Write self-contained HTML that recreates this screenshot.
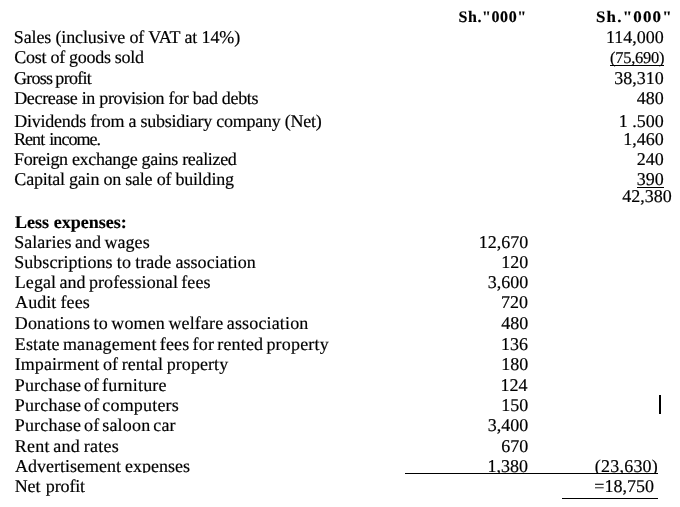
<!DOCTYPE html>
<html><head><meta charset="utf-8"><title>Income statement</title>
<style>
html,body{margin:0;padding:0;background:#fff;}
body{width:680px;height:507px;position:relative;overflow:hidden;font-family:"Liberation Serif","Times New Roman",serif;font-size:18px;color:#000;text-rendering:geometricPrecision;}
.t{position:absolute;white-space:pre;line-height:20px;height:20px;-webkit-text-stroke:0.18px #000;}
.b{font-weight:bold;}
.r{position:absolute;background:#000;}
</style></head><body>

<div class="t b" style="left:458.40px;top:8px;letter-spacing:0.608px;font-size:16px;">Sh.&quot;000&quot;</div>
<div class="t b" style="left:595.70px;top:8px;letter-spacing:1.109px;transform:scaleX(1.06);transform-origin:0 0;font-size:16px;">Sh.&quot;000&quot;</div>
<div class="t" style="left:13.87px;top:27px;letter-spacing:-0.140px;">Sales (inclusive of VAT at 14%)</div>
<div class="t" style="left:14.36px;top:47px;letter-spacing:-0.289px;">Cost of goods sold</div>
<div class="t" style="left:13.91px;top:68px;letter-spacing:-0.725px;word-spacing:-0.700px;">Gross profit</div>
<div class="t" style="left:14.18px;top:88px;letter-spacing:-0.325px;">Decrease in provision for bad debts</div>
<div class="t" style="left:14.18px;top:111px;letter-spacing:-0.246px;">Dividends from a subsidiary company (Net)</div>
<div class="t" style="left:14.00px;top:129px;letter-spacing:-0.942px;word-spacing:1.500px;">Rent income.</div>
<div class="t" style="left:14.00px;top:149px;letter-spacing:-0.318px;">Foreign exchange gains realized</div>
<div class="t" style="left:14.36px;top:169px;letter-spacing:-0.222px;">Capital gain on sale of building</div>
<div class="t b" style="left:15.05px;top:212px;word-spacing:0.152px;">Less expenses:</div>
<div class="t" style="left:14.26px;top:232px;letter-spacing:0.030px;word-spacing:-1.032px;">Salaries and wages</div>
<div class="t" style="left:14.26px;top:252px;letter-spacing:0.030px;word-spacing:-0.303px;">Subscriptions to trade association</div>
<div class="t" style="left:14.74px;top:272px;letter-spacing:0.094px;word-spacing:-1.359px;">Legal and professional fees</div>
<div class="t" style="left:15.09px;top:292px;letter-spacing:0.064px;word-spacing:-0.445px;">Audit fees</div>
<div class="t" style="left:14.74px;top:313px;letter-spacing:0.147px;word-spacing:-1.205px;">Donations to women welfare association</div>
<div class="t" style="left:14.74px;top:334px;letter-spacing:0.175px;word-spacing:-1.525px;">Estate management fees for rented property</div>
<div class="t" style="left:14.69px;top:354px;letter-spacing:0.068px;word-spacing:-0.942px;">Impairment of rental property</div>
<div class="t" style="left:14.71px;top:375px;letter-spacing:0.190px;word-spacing:-1.971px;">Purchase of furniture</div>
<div class="t" style="left:14.71px;top:395px;letter-spacing:0.190px;word-spacing:-1.821px;">Purchase of computers</div>
<div class="t" style="left:14.71px;top:415px;letter-spacing:0.190px;word-spacing:-1.852px;">Purchase of saloon car</div>
<div class="t" style="left:14.71px;top:436px;letter-spacing:0.250px;word-spacing:-1.093px;">Rent and rates</div>
<div class="t" style="left:15.09px;top:456px;letter-spacing:-0.004px;word-spacing:-0.515px;height:17px;overflow:hidden;">Advertisement expenses</div>
<div class="t" style="left:14.74px;top:476px;letter-spacing:-0.135px;word-spacing:1.126px;">Net profit</div>
<div class="t" style="left:605.89px;top:27px;">114,000</div>
<div class="t" style="left:610.08px;top:48px;letter-spacing:-0.270px;font-size:16.5px;">(75,690)</div>
<div class="t" style="left:614.14px;top:68px;">38,310</div>
<div class="t" style="left:636.65px;top:88px;">480</div>
<div class="t" style="left:618.77px;top:111px;">1 .500</div>
<div class="t" style="left:623.14px;top:129px;">1,460</div>
<div class="t" style="left:636.78px;top:149px;">240</div>
<div class="t" style="left:636.74px;top:169px;">390</div>
<div class="t" style="left:622.24px;top:186px;">42,380</div>
<div class="t" style="left:594.77px;top:456px;letter-spacing:0.227px;height:17px;overflow:hidden;">(23,630)</div>
<div class="t" style="left:594.36px;top:476px;">=18,750</div>
<div class="t" style="left:478.70px;top:232px;">12,670</div>
<div class="t" style="left:501.20px;top:252px;">120</div>
<div class="t" style="left:487.70px;top:272px;">3,600</div>
<div class="t" style="left:500.97px;top:292px;">720</div>
<div class="t" style="left:501.18px;top:313px;">480</div>
<div class="t" style="left:500.94px;top:334px;">136</div>
<div class="t" style="left:501.20px;top:354px;">180</div>
<div class="t" style="left:500.62px;top:375px;">124</div>
<div class="t" style="left:501.20px;top:395px;">150</div>
<div class="t" style="left:487.70px;top:415px;">3,400</div>
<div class="t" style="left:501.20px;top:436px;">670</div>
<div class="t" style="left:487.47px;top:456px;height:17px;overflow:hidden;">1,380</div>
<div class="r" style="left:405.00px;top:473.00px;width:253.00px;height:1.00px"></div>
<div class="r" style="left:562.00px;top:498.00px;width:96.00px;height:1.20px"></div>
<div class="r" style="left:659.00px;top:395.00px;width:2.00px;height:19.00px"></div>
<div class="r" style="left:610.00px;top:65.00px;width:54.00px;height:1.00px"></div>
<div class="r" style="left:637.00px;top:186.50px;width:26.50px;height:1.00px"></div>
</body></html>
